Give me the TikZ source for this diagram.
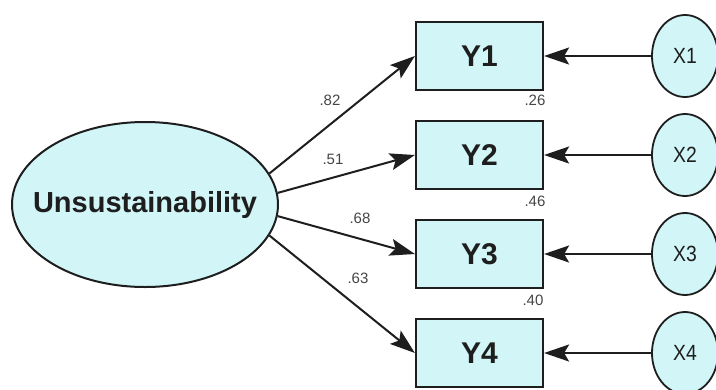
\documentclass[tikz,border=0pt]{standalone}
\usepackage{fontspec}
\setmainfont{Liberation Sans}
\usetikzlibrary{shapes.geometric,arrows.meta}
\definecolor{nodefill}{RGB}{210,246,247}
\definecolor{edgecol}{RGB}{30,30,30}
\definecolor{labcol}{RGB}{70,70,70}
\tikzset{
  latent/.style={ellipse,draw=edgecol,fill=nodefill,line width=2pt,inner sep=0pt},
  obsbox/.style={rectangle,draw=edgecol,fill=nodefill,line width=2.2pt,minimum width=127pt,minimum height=68pt,inner sep=0pt,
    font=\fontsize{30}{32}\selectfont\bfseries,text=edgecol},
  errnode/.style={ellipse,draw=edgecol,fill=nodefill,line width=1.8pt,minimum width=66pt,minimum height=82pt,inner sep=0pt,
    font=\fontsize{22}{24}\selectfont,text=edgecol},
  arr/.style={line width=2pt,draw=edgecol,-{Stealth[length=25pt,width=17pt,inset=5pt]}},
  coef/.style={font=\fontsize{15}{17}\selectfont,text=labcol,inner sep=0pt}
}
\begin{document}
\begin{tikzpicture}[x=1pt,y=-1pt]
\clip (0,0) rectangle (716,389);
\fill[white] (0,0) rectangle (716,389);
\node[latent,minimum width=266pt,minimum height=165pt,font=\fontsize{29}{31}\selectfont\bfseries,text=edgecol] (U) at (145,204.5) {\makebox[0pt]{Unsustainability}};
\node[obsbox] (Y1) at (479.5,56) {Y1};
\node[obsbox] (Y2) at (479.5,155) {Y2};
\node[obsbox] (Y3) at (479.5,254) {Y3};
\node[obsbox] (Y4) at (479.5,353) {Y4};
\node[errnode] (X1) at (685,56) {\scalebox{0.88}[1]{X1}};
\node[errnode] (X2) at (685,155) {\scalebox{0.88}[1]{X2}};
\node[errnode] (X3) at (685,254) {\scalebox{0.88}[1]{X3}};
\node[errnode] (X4) at (685,353) {\scalebox{0.88}[1]{X4}};
\draw[arr] (U.14) -- (Y1.west);
\draw[arr] (U.5) -- (Y2.west);
\draw[arr] (U.-5) -- (Y3.west);
\draw[arr] (U.-14) -- (Y4.west);
\draw[arr] (X1.west) -- (Y1.east);
\draw[arr] (X2.west) -- (Y2.east);
\draw[arr] (X3.west) -- (Y3.east);
\draw[arr] (X4.west) -- (Y4.east);
\node[coef] (l1) at (330,100) {.82};
\node[coef] (l2) at (333,159) {.51};
\node[coef] (l3) at (360,218) {.68};
\node[coef] (l4) at (358,278) {.63};
\node[coef] (r1) at (535,100) {.26};
\node[coef] (r2) at (535,201) {.46};
\node[coef] (r3) at (533,300) {.40};
\end{tikzpicture}
\end{document}
